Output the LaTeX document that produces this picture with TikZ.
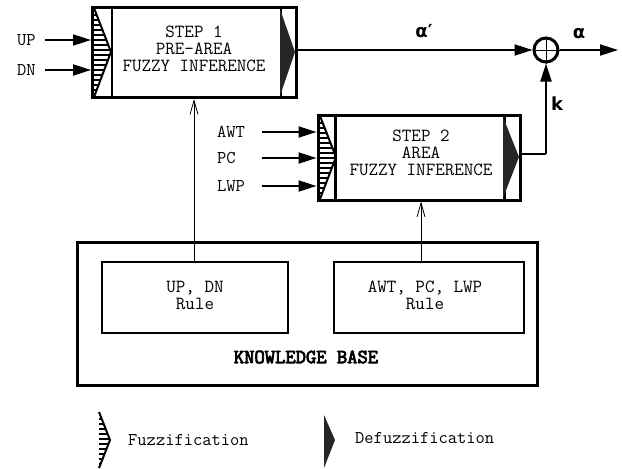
\documentclass[tikz,border=0pt]{standalone}
\usepackage{fontspec}
\newfontfamily\symfont{DejaVu Sans}
\newfontfamily\kbfont{Latin Modern Mono}[FakeBold=4]
\usetikzlibrary{arrows.meta,calc}
\begin{document}
\begin{tikzpicture}[x=1pt,y=-1pt,
  txt/.style={font=\ttfamily\fontsize{18.5}{17}\selectfont, align=center, inner sep=0pt},
  lbl/.style={font=\ttfamily\fontsize{18}{17}\selectfont, inner sep=0pt, anchor=west},
  greek/.style={font=\symfont\bfseries\fontsize{18}{18}\selectfont, inner sep=0pt},
  stepbox/.style={draw, line width=3pt, inner sep=0pt},
  rulebox/.style={draw, line width=1.8pt, inner sep=0pt},
  arr/.style={line width=2pt, -{Triangle[length=18pt,width=11pt]}},
  thinarr/.style={line width=0.8pt, -{Straight Barb[length=14pt,width=8pt,line width=0.8pt]}},
  divider/.style={line width=2.5pt}
]
\useasboundingbox[fill=white] (0,0) rectangle (622,469);

% step boxes
\node[stepbox, minimum width=204pt, minimum height=90pt] (s1) at (194.5,52.5) {};
\node[stepbox, minimum width=202pt, minimum height=85pt] (s2) at (419,157.5) {};
\draw[divider] ($(s1.north west)+(21,0)$) -- ($(s1.south west)+(21,0)$);
\draw[divider] ($(s1.north east)+(-17,0)$) -- ($(s1.south east)+(-17,0)$);
\draw[divider] ($(s2.north west)+(19,0)$) -- ($(s2.south west)+(19,0)$);
\draw[divider] ($(s2.north east)+(-17,0)$) -- ($(s2.south east)+(-17,0)$);

\node[txt] (t1) at (194,49) {STEP 1\\PRE-AREA\\FUZZY INFERENCE};
\node[txt] (t2) at (421,153) {STEP 2\\AREA\\FUZZY INFERENCE};

% fuzzification triangles (hatched)
\begin{scope}
  \clip (94,8) -- (111,52) -- (94,97) -- cycle;
  \foreach \yy in {10,15,...,97} \draw[line width=1.6pt] (90,\yy) -- (115,\yy);
\end{scope}
\draw[line width=2pt, line join=miter] (94,8) -- (111,52) -- (94,97);
\begin{scope}
  \clip (320,116) -- (336,157) -- (320,199) -- cycle;
  \foreach \yy in {118,123,...,199} \draw[line width=1.6pt] (316,\yy) -- (340,\yy);
\end{scope}
\draw[line width=2pt] (320,116) -- (336,157) -- (320,199);

% defuzzification triangles
\fill[black!85] (280,9) -- (295,52) -- (280,96) -- cycle;
\fill[black!85] (503,117) -- (519,157) -- (503,198) -- cycle;

% inputs step 1
\node[lbl] (up) at (17,40) {UP};
\node[lbl] (dn) at (17,70) {DN};
\draw[arr] (45,40) -- (up.east -| s1.west);
\draw[arr] (45,70) -- (dn.east -| s1.west);

% inputs step 2
\node[lbl] (awt) at (217,132) {AWT};
\node[lbl] (pc) at (217,158) {PC};
\node[lbl] (lwp) at (217,186) {LWP};
\draw[arr] (262,132) -- (awt.east -| s2.west);
\draw[arr] (262,158) -- (pc.east -| s2.west);
\draw[arr] (262,186) -- (lwp.east -| s2.west);

% summing junction
\node[circle, draw, line width=3pt, minimum size=24pt, inner sep=0pt] (sum) at (546,50) {};
\draw[line width=0.5pt] (sum.north) -- (sum.south) (sum.west) -- (sum.east);
\draw[arr] (s1.east |- sum.west) -- (sum.west);
\coordinate (out) at (618,50);
\draw[arr] (sum.east) -- (out);
\coordinate (kc) at (546,154);
\draw[line width=2pt] (s2.east |- kc) -- (kc);
\draw[arr] (kc) -- (sum.south);
\node[greek] (ap) at (424,31) {α′};
\node[greek] (a) at (579,34) {α};
\node[greek] (k) at (557,104) {k};

% knowledge base
\node[draw, line width=3pt, minimum width=460pt, minimum height=143pt, inner sep=0pt] (kb) at (307,313.5) {};
\node[rulebox, minimum width=186pt, minimum height=71pt] (r1) at (195,297.5) {};
\node[rulebox, minimum width=190pt, minimum height=71pt] (r2) at (429,297.5) {};
\node[txt] (r1t) at (195,295) {UP, DN\\Rule};
\node[txt] (r2t) at (425,295) {AWT, PC, LWP\\Rule};
\node[font=\kbfont\fontsize{20}{20}\selectfont, inner sep=0pt] (kbt) at (306,357) {KNOWLEDGE BASE};
\draw[thinarr] (r1.north -| t1.south) -- (t1.south |- s1.south);
\draw[thinarr] (r2.north -| t2.south) -- (t2.south |- s2.south);

% legend
\begin{scope}
  \clip (99,412) -- (110,440) -- (99,468) -- cycle;
  \foreach \yy in {414,419,...,468} \draw[line width=1.6pt] (95,\yy) -- (114,\yy);
\end{scope}
\draw[line width=2pt] (99,412) -- (110,440) -- (99,468);
\fill[black!85] (324,415) -- (335,440) -- (324,468) -- cycle;
\node[lbl] (fz) at (128,440) {Fuzzification};
\node[lbl] (dfz) at (355,438) {Defuzzification};
\end{tikzpicture}
\end{document}
